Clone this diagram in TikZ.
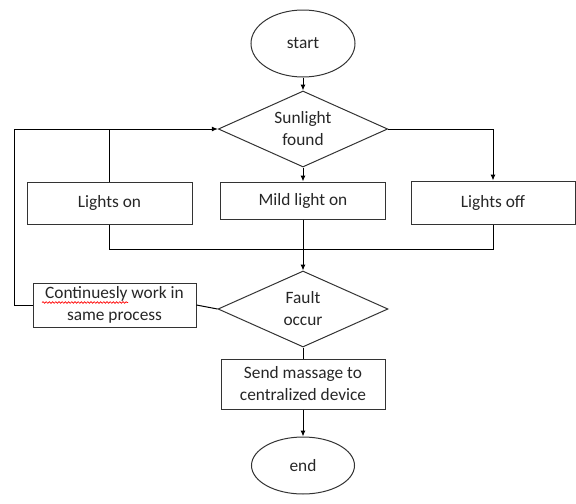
\documentclass[tikz,border=0pt]{standalone}
\usepackage{fontspec}
\setmainfont{Carlito}
\usetikzlibrary{shapes.geometric,arrows.meta,decorations.pathmorphing}
\begin{document}
\begin{tikzpicture}[x=0.75pt,y=-0.75pt,
  every node/.style={font=\fontsize{13}{16.5}\selectfont, text=black!85, inner sep=0pt},
  term/.style={ellipse, draw=black!80, line width=0.75pt},
  dec/.style={diamond, draw=black!80, line width=0.75pt, shape aspect=2.2, minimum width=127pt, minimum height=57pt, align=center},
  procbox/.style={rectangle, draw=black!80, line width=0.75pt, align=center},
  conn/.style={draw=black, line width=0.75pt},
  arr/.style={conn, -{Latex[length=4.5pt,width=3.8pt]}}]
\useasboundingbox (0,0) rectangle (576,504);
\node[term, minimum width=78pt, minimum height=50.25pt] (start) at (303,43.5) {start};
\node[dec] (sun) at (303,129) {Sunlight\\found};
\node[procbox, minimum width=123.75pt, minimum height=31.5pt] (lon) at (109.5,203) {Lights on};
\node[procbox, minimum width=123.75pt, minimum height=27.75pt] (mild) at (303,200.5) {Mild light on};
\node[procbox, minimum width=123pt, minimum height=32.25pt] (loff) at (493,202.5) {Lights off};
\coordinate (j) at (303,249);
\node[dec, minimum width=127.5pt] (fault) at (303,309) {Fault\\occur};
\node[procbox, minimum width=122.25pt, minimum height=33pt] (cont) at (114.5,305) {Continuesly work in\\same process};
\node[procbox, minimum width=123pt, minimum height=37.5pt] (send) at (303,384) {Send massage to\\centralized device};
\node[term, minimum width=77.25pt, minimum height=42.75pt] (end) at (303,465.5) {end};

\draw[arr] (start.south) -- (sun.north);
\draw[arr] (sun.south) -- (mild.north);
\draw[arr] (sun.east) -| (loff.north);
\draw[arr] (cont.west) -- ++(-18,0) |- (sun.west);
\draw[conn] (lon.north) -- (lon.north |- sun.west);
\draw[conn] (lon.south) |- (j);
\draw[conn] (loff.south) |- (j);
\draw[arr] (mild.south) -- (fault.north);
\draw[conn] (cont.east) -- (fault.west);
\draw[conn] (fault.south) -- (send.north);
\draw[arr] (send.south) -- (end.north);

\draw[red, line width=0.5pt, decorate, decoration={snake, amplitude=0.6pt, segment length=2.4pt}] (42,302.5) -- (128,302.5);
\end{tikzpicture}
\end{document}
